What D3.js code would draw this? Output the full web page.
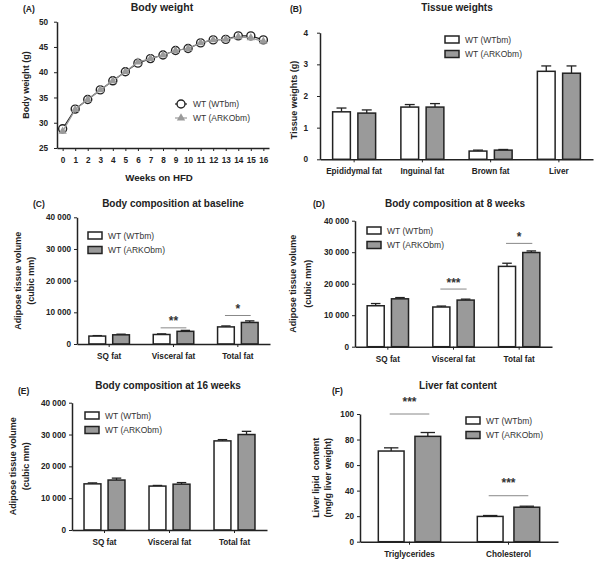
<!DOCTYPE html>
<html>
<head>
<meta charset="utf-8">
<title>Body weight and adipose tissue</title>
<script src="https://cdn.jsdelivr.net/npm/d3@7"></script>
<style>
  body {margin: 0; background: #fff;}
  svg {font-family: "Liberation Sans", Arial, sans-serif; display: block;}
  .tick text {font-weight: bold; font-size: 8.2px; fill: #222;}
  .tick line, .domain {stroke: #222;}
  .domain {stroke-width: 1.5px;}
  .title {font-weight: bold; font-size: 10px; fill: #222; text-anchor: middle;}
  .letter {font-weight: bold; font-size: 8.5px; fill: #222;}
  .ylab {font-weight: bold; font-size: 9px; fill: #222; text-anchor: middle; white-space: pre;}
  .leg {font-size: 8.5px; fill: #333;}
  .stars {font-weight: bold; font-size: 12px; fill: #333; text-anchor: middle;}
</style>
</head>
<body>
<svg id="chart" width="600" height="564"></svg>
<script>
// ---- data ----
var weeks = [0, 1, 2, 3, 4, 5, 6, 7, 8, 9, 10, 11, 12, 13, 14, 15, 16];
var wtWeight   = [28.8, 32.7, 34.6, 36.5, 38.3, 40.1, 41.8, 42.7, 43.4, 44.3, 44.7, 45.8, 46.4, 46.5, 47.2, 47.2, 46.4];
var arkoWeight = [28.3, 32.6, 34.6, 36.5, 38.3, 40.1, 42.0, 42.7, 43.4, 44.3, 44.7, 45.8, 46.4, 46.5, 47.0, 46.8, 46.1];

var tissueCats = ["Epididymal fat", "Inguinal fat", "Brown fat", "Liver"];
var tissueWT      = [1.50, 1.65, 0.26, 2.78];
var tissueWTerr   = [0.12, 0.08, 0.03, 0.17];
var tissueARKO    = [1.46, 1.65, 0.29, 2.72];
var tissueARKOerr = [0.10, 0.11, 0.02, 0.23];

var compCats = ["SQ fat", "Visceral fat", "Total fat"];
var baseWT      = [2500, 3000, 5400];
var baseWTerr   = [150, 200, 300];
var baseARKO    = [2900, 4000, 6800];
var baseARKOerr = [200, 300, 500];
var wk8WT       = [13000, 12600, 25500];
var wk8WTerr    = [700, 300, 1000];
var wk8ARKO     = [15200, 14800, 29900];
var wk8ARKOerr  = [400, 300, 500];
var wk16WT      = [14500, 13800, 28000];
var wk16WTerr   = [300, 200, 400];
var wk16ARKO    = [15700, 14400, 30000];
var wk16ARKOerr = [600, 500, 1000];

var lipidCats = ["Triglycerides", "Cholesterol"];
var lipidWT      = [71, 19.8];
var lipidWTerr   = [2.5, 0.7];
var lipidARKO    = [82.5, 27];
var lipidARKOerr = [3, 0.8];

var sigBase  = [{cat: "Visceral fat", level: 5100, stars: "**"}, {cat: "Total fat", level: 9000, stars: "*"}];
var sig8     = [{cat: "Visceral fat", level: 18300, stars: "***"}, {cat: "Total fat", level: 32800, stars: "*"}];
var sigLipid = [{cat: "Triglycerides", level: 100, stars: "***"}, {cat: "Cholesterol", level: 36, stars: "***"}];

var seriesNames = ["WT (WTbm)", "WT (ARKObm)"];
var volTicks = [0, 10000, 20000, 30000, 40000];

var grey = "#9a9a9a", ink = "#222";
var svg = d3.select("#chart");
var spaced = function(d) { return d3.format(",")(d).replace(/,/g, " "); };

function label(x, y, txt, cls) {
    return svg.append("text").attr("class", cls).attr("x", x).attr("y", y).text(txt);
}
function yLabel(x, cy, txt) {
    svg.append("text").attr("class", "ylab")
        .attr("transform", "translate(" + x + "," + cy + ") rotate(-90)")
        .text(txt);
}

// ---- (A) body weight ----
(function() {
    var x = d3.scaleLinear().domain([-0.45, 16.45]).range([57, 269]);
    var y = d3.scaleLinear().domain([25, 50]).range([148, 21.7]);
    var g = svg.append("g");
    g.append("g").attr("transform", "translate(0,148)")
        .call(d3.axisBottom(x).tickValues(weeks).tickSize(3).tickSizeOuter(0).tickPadding(6));
    g.append("g").attr("transform", "translate(57,0)")
        .call(d3.axisLeft(y).tickValues([25, 30, 35, 40, 45, 50]).tickSize(3).tickSizeOuter(0).tickPadding(6));

    var line = d3.line().x(function(d, i) { return x(weeks[i]); }).y(function(d) { return y(d); });
    g.append("path").datum(wtWeight).attr("d", line).attr("fill", "none").attr("stroke", ink).attr("stroke-width", 1.2);
    g.selectAll("circle.wt").data(wtWeight).enter().append("circle")
        .attr("cx", function(d, i) { return x(weeks[i]); }).attr("cy", y)
        .attr("r", 4).attr("fill", "#fff").attr("stroke", ink).attr("stroke-width", 1.4);
    g.append("path").datum(arkoWeight).attr("d", line).attr("fill", "none").attr("stroke", grey).attr("stroke-width", 1.2);
    var tri = d3.symbol().type(d3.symbolTriangle).size(30);
    g.selectAll("path.ar").data(arkoWeight).enter().append("path")
        .attr("d", tri).attr("fill", grey)
        .attr("transform", function(d, i) { return "translate(" + x(weeks[i]) + "," + y(d) + ")"; });

    // legend
    g.append("line").attr("x1", 175).attr("x2", 187).attr("y1", 104).attr("y2", 104).attr("stroke", ink).attr("stroke-width", 1.2);
    g.append("circle").attr("cx", 181).attr("cy", 104).attr("r", 4).attr("fill", "#fff").attr("stroke", ink).attr("stroke-width", 1.4);
    g.append("line").attr("x1", 175).attr("x2", 187).attr("y1", 118).attr("y2", 118).attr("stroke", grey).attr("stroke-width", 1.2);
    g.append("path").attr("d", tri).attr("fill", grey).attr("transform", "translate(181,118)");
    label(193, 107, seriesNames[0], "leg");
    label(193, 121, seriesNames[1], "leg");

    label(23, 12, "(A)", "letter");
    label(162, 11, "Body weight", "title").style("font-size", "10.5px");
    yLabel(28.5, 85, "Body weight (g)");
    label(159, 180.5, "Weeks on HFD", "title").style("font-size", "9.7px");
})();

// ---- bar panels ----
function barPanel(p) {
    var g = svg.append("g");
    var x = d3.scaleBand().domain(p.cats).range([p.left, p.right]);
    var y = d3.scaleLinear().domain([0, p.ticks[p.ticks.length - 1]]).range([p.bottom, p.top]);
    var step = x.step(), bw = step * 0.26, gap = step * 0.11;
    var center = function(c) { return x(c) + step / 2; };

    var series = [
        {vals: p.wt, err: p.wtErr, fill: "#fff", side: -1},
        {vals: p.ar, err: p.arErr, fill: grey, side: 1}
    ];
    series.forEach(function(s) {
        var bx = function(d, i) { var c = center(p.cats[i]); return s.side < 0 ? c - gap / 2 - bw : c + gap / 2; };
        g.selectAll(null).data(s.vals).enter().append("line")
            .attr("x1", function(d, i) { return bx(d, i) + bw / 2; })
            .attr("x2", function(d, i) { return bx(d, i) + bw / 2; })
            .attr("y1", y).attr("y2", function(d, i) { return y(d + s.err[i]); })
            .attr("stroke", ink).attr("stroke-width", 1.3);
        g.selectAll(null).data(s.vals).enter().append("line")
            .attr("x1", function(d, i) { return bx(d, i) + bw * 0.22; })
            .attr("x2", function(d, i) { return bx(d, i) + bw * 0.78; })
            .attr("y1", function(d, i) { return y(d + s.err[i]); })
            .attr("y2", function(d, i) { return y(d + s.err[i]); })
            .attr("stroke", ink).attr("stroke-width", 1.3);
        g.selectAll(null).data(s.vals).enter().append("rect")
            .attr("x", bx).attr("width", bw)
            .attr("y", y).attr("height", function(d) { return p.bottom - y(d); })
            .attr("fill", s.fill).attr("stroke", ink).attr("stroke-width", 1.5);
    });

    g.append("g").attr("transform", "translate(0," + p.bottom + ")")
        .call(d3.axisBottom(x).tickSize(3).tickSizeOuter(0).tickPadding(6));
    g.append("g").attr("transform", "translate(" + p.left + ",0)")
        .call(d3.axisLeft(y).tickValues(p.ticks).tickFormat(p.fmt || String)
            .tickSize(3).tickSizeOuter(0).tickPadding(p.tickPad || 3));

    // significance bars; star glyph centre sits ~6.6px above its baseline
    (p.sig || []).forEach(function(s) {
        var c = center(s.cat);
        g.append("line").attr("x1", c - step * 0.2).attr("x2", c + step * 0.2)
            .attr("y1", y(s.level)).attr("y2", y(s.level))
            .attr("stroke", "#888").attr("stroke-width", 1);
        g.append("text").attr("class", "stars").attr("x", c)
            .attr("y", y(s.level) - (p.starLift || 9) + 6.6).text(s.stars);
    });

    // legend
    [0, 1].forEach(function(i) {
        var ly = p.legY + i * 14.5;
        g.append("rect").attr("x", p.legX).attr("y", ly).attr("width", 14).attr("height", 7)
            .attr("fill", i ? grey : "#fff").attr("stroke", ink).attr("stroke-width", 1.5);
        label(p.legX + 20, ly + 6.8, seriesNames[i], "leg");
    });

    label(p.letter[0], p.letter[1], p.letter[2], "letter");
    label(p.title[0], p.title[1], p.title[2], "title");
    p.ylab.forEach(function(l) { yLabel(l[0], (p.top + p.bottom) / 2 + (p.ylabShift || 0), l[1]); });
}

barPanel({
    cats: tissueCats, wt: tissueWT, wtErr: tissueWTerr, ar: tissueARKO, arErr: tissueARKOerr,
    left: 320, right: 593, top: 32.7, bottom: 159.3, ticks: [0, 1, 2, 3, 4], tickPad: 9,
    legX: 445, legY: 36,
    letter: [290, 12, "(B)"], title: [457, 11, "Tissue weights"],
    ylab: [[296.5, "Tissue weights (g)"]], ylabShift: 4
});

barPanel({
    cats: compCats, wt: baseWT, wtErr: baseWTerr, ar: baseARKO, arErr: baseARKOerr,
    left: 77, right: 270, top: 217.3, bottom: 344, ticks: volTicks, fmt: spaced,
    legX: 88, legY: 232, sig: sigBase,
    letter: [33, 207, "(C)"], title: [173, 207, "Body composition at baseline"],
    ylab: [[20.5, "Adipose tissue volume"], [33.5, "(cubic mm)"]]
});

barPanel({
    cats: compCats, wt: wk8WT, wtErr: wk8WTerr, ar: wk8ARKO, arErr: wk8ARKOerr,
    left: 355, right: 552, top: 220.7, bottom: 346.7, ticks: volTicks, fmt: spaced,
    legX: 367, legY: 227, sig: sig8,
    letter: [313, 207, "(D)"], title: [455, 207, "Body composition at 8 weeks"],
    ylab: [[296, "Adipose tissue volume"], [310.5, "(cubic mm)"]]
});

barPanel({
    cats: compCats, wt: wk16WT, wtErr: wk16WTerr, ar: wk16ARKO, arErr: wk16ARKOerr,
    left: 72, right: 267, top: 402.7, bottom: 530, ticks: volTicks, fmt: spaced,
    legX: 85, legY: 412,
    letter: [18, 394, "(E)"], title: [168, 389, "Body composition at 16 weeks"],
    ylab: [[15.5, "Adipose tissue volume"], [28.5, "(cubic mm)"]]
});

barPanel({
    cats: lipidCats, wt: lipidWT, wtErr: lipidWTerr, ar: lipidARKO, arErr: lipidARKOerr,
    left: 360, right: 558, top: 414, bottom: 541.7, ticks: [0, 20, 40, 60, 80, 100],
    legX: 466, legY: 417, sig: sigLipid, starLift: 15,
    letter: [332, 394, "(F)"], title: [458, 389, "Liver fat content"],
    ylab: [[318.5, "Liver lipid  content"], [330.5, "(mg/g liver weight)"]]
});
</script>
</body>
</html>
